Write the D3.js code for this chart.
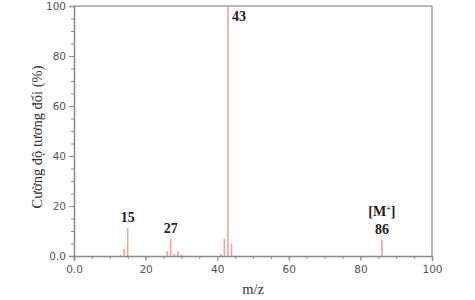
<!DOCTYPE html>
<html lang="vi">
<head>
<meta charset="UTF-8" />
<title>Mass spectrum</title>
<style>
  body { margin: 0; background: #fff; }
</style>
</head>
<body>
<svg width="475" height="300"></svg>
<script src="https://d3js.org/d3.v7.min.js"></script>
<script>
// m/z peaks and relative intensity (%)
var mz = [13, 14, 15, 26, 27, 28, 29, 30, 41, 42, 43, 44, 86];
var intensity = [0.5, 2.8, 11.2, 2, 6.8, 1, 2, 0.5, 1, 7, 100, 5, 6.5];
var xTicks = [0, 20, 40, 60, 80, 100];
var yTicks = [0, 20, 40, 60, 80, 100];
var peakLabels = [
  { mz: 15, text: "15" },
  { mz: 27, text: "27" },
  { mz: 86, text: "86" }
];

var svg = d3.select("svg");
var margin = { top: 6, right: 43, bottom: 44, left: 74 };
var width = +svg.attr("width") - margin.left - margin.right;
var height = +svg.attr("height") - margin.top - margin.bottom;
var g = svg.append("g")
  .attr("transform", "translate(" + margin.left + "," + margin.top + ")");

var x = d3.scaleLinear().domain([0, 100]).range([0, width]);
var y = d3.scaleLinear().domain([0, 100]).range([height, 0]);

var fmt = function (d) { return d === 0 ? "0.0" : d; };
var axisColor = "#8a8a8a";
var labelColor = "#555";

// minor ticks
g.append("g")
  .attr("transform", "translate(0," + height + ")")
  .call(d3.axisBottom(x).tickValues(d3.range(0, 101, 5)).tickSize(3).tickFormat(""))
  .call(function (s) { s.select(".domain").remove(); s.selectAll("line").attr("stroke", axisColor); });
g.append("g")
  .call(d3.axisLeft(y).tickValues(d3.range(0, 101, 5)).tickSize(3).tickFormat(""))
  .call(function (s) { s.select(".domain").remove(); s.selectAll("line").attr("stroke", axisColor); });

// frame (top and right)
g.append("line").attr("x1", 0).attr("x2", width).attr("y1", 0).attr("y2", 0)
  .attr("stroke", "#a0a0a0").attr("stroke-width", 1.5);
g.append("line").attr("x1", width).attr("x2", width).attr("y1", 0).attr("y2", height)
  .attr("stroke", "#a0a0a0").attr("stroke-width", 1.5);

// peaks
g.selectAll(".peak")
  .data(mz)
  .enter().append("line")
  .attr("class", "peak")
  .attr("x1", function (d) { return x(d); })
  .attr("x2", function (d) { return x(d); })
  .attr("y1", y(0))
  .attr("y2", function (d, i) { return y(intensity[i]); })
  .attr("stroke", "#f2a2a2")
  .attr("stroke-width", 1.6);

// major axes
g.append("g")
  .attr("transform", "translate(0," + height + ")")
  .call(d3.axisBottom(x).tickValues(xTicks).tickSize(5).tickPadding(5).tickFormat(fmt))
  .call(function (s) {
    s.select(".domain").attr("stroke", axisColor).attr("stroke-width", 1.5);
    s.selectAll("line").attr("stroke", axisColor);
    s.selectAll("text").attr("fill", labelColor).attr("font-family", "DejaVu Sans").attr("font-size", 10.5);
  });
g.append("g")
  .call(d3.axisLeft(y).tickValues(yTicks).tickSize(5).tickPadding(3).tickFormat(fmt))
  .call(function (s) {
    s.select(".domain").attr("stroke", axisColor).attr("stroke-width", 1.5);
    s.selectAll("line").attr("stroke", axisColor);
    s.selectAll("text").attr("fill", labelColor).attr("font-family", "DejaVu Sans").attr("font-size", 10.5);
  });

// peak labels
var serif = "Liberation Serif";
g.selectAll(".plabel")
  .data(peakLabels)
  .enter().append("text")
  .attr("class", "plabel")
  .attr("x", function (d) { return x(d.mz); })
  .attr("y", function (d) { return y(intensity[mz.indexOf(d.mz)]) - 6; })
  .attr("text-anchor", "middle")
  .attr("font-family", serif)
  .attr("font-weight", "bold")
  .attr("font-size", 14)
  .attr("fill", "#222")
  .text(function (d) { return d.text; });

g.append("text")
  .attr("x", x(43) + 4)
  .attr("y", y(100) + 15)
  .attr("font-family", serif)
  .attr("font-weight", "bold")
  .attr("font-size", 14)
  .attr("fill", "#222")
  .text("43");

var m = g.append("text")
  .attr("x", x(86))
  .attr("y", y(6.5) - 24)
  .attr("text-anchor", "middle")
  .attr("font-family", serif)
  .attr("font-weight", "bold")
  .attr("font-size", 14)
  .attr("fill", "#222");
m.append("tspan").text("[M");
m.append("tspan").attr("font-size", 8).attr("dy", -5).text("+");
m.append("tspan").attr("dy", 5).text("]");

// axis titles
svg.append("text")
  .attr("x", margin.left + x(50))
  .attr("y", 294)
  .attr("text-anchor", "middle")
  .attr("font-family", serif)
  .attr("font-size", 14.5)
  .attr("fill", "#333")
  .text("m/z");

svg.append("text")
  .attr("transform", "translate(42," + (margin.top + y(50) + 6) + ") rotate(-90)")
  .attr("text-anchor", "middle")
  .attr("font-family", serif)
  .attr("font-size", 14.5)
  .attr("fill", "#333")
  .text("Cường độ tương đối (%)");
</script>
</body>
</html>
